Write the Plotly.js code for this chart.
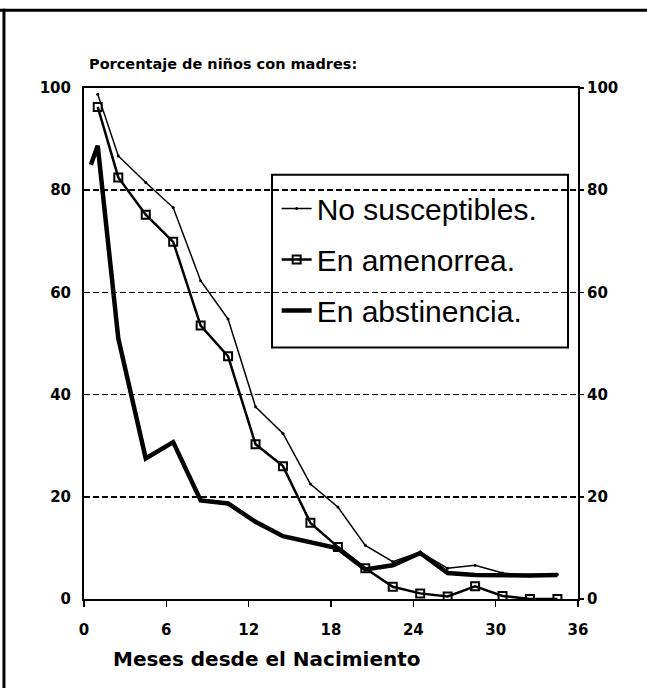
<!DOCTYPE html>
<html>
<head>
<meta charset="utf-8">
<script src="https://cdn.plot.ly/plotly-3.0.1.min.js"></script>
<style>html,body{margin:0;padding:0;background:#fff;}#chart{width:647px;height:688px;}</style>
</head>
<body>
<div id="chart"></div>
<script>
// Data
const seriesNames = ["No susceptibles.", "En amenorrea.", "En abstinencia."];

const monthsNoSusc = [1, 2.5, 4.5, 6.5, 8.5, 10.5, 12.5, 14.5, 16.5, 18.5, 20.5, 22.5, 24.5, 26.5, 28.5, 30.5, 32.5, 34.5];
const noSusceptibles = [98.8, 86.7, 81.5, 76.6, 62.3, 54.8, 37.6, 32.4, 22.5, 18.0, 10.5, 7.3, 9.2, 6.0, 6.6, 5.1, 4.5, 4.8];

const monthsAmen = [1, 2.5, 4.5, 6.5, 8.5, 10.5, 12.5, 14.5, 16.5, 18.5, 20.5, 22.5, 24.5, 26.5, 28.5, 30.5, 32.5, 34.5];
const amenorrea = [96.3, 82.5, 75.2, 69.9, 53.5, 47.5, 30.3, 26.0, 14.9, 10.2, 6.0, 2.4, 1.1, 0.5, 2.5, 0.6, 0.0, 0.0];

const monthsAbst = [0.5, 1, 2.5, 4.5, 6.5, 8.5, 10.5, 12.5, 14.5, 16.5, 18.5, 20.5, 22.5, 24.5, 26.5, 28.5, 30.5, 32.5, 34.5];
const abstinencia = [85.0, 88.7, 51.0, 27.5, 30.7, 19.3, 18.7, 15.1, 12.3, 11.0, 9.9, 5.8, 6.6, 9.0, 5.1, 4.7, 4.6, 4.6, 4.7];

const xTicks = [0, 6, 12, 18, 24, 30, 36];
const yTicks = [0, 20, 40, 60, 80, 100];
const titleText = "Porcentaje de niños con madres:";
const xTitleText = "Meses desde el Nacimiento";

const FONT = "Liberation Sans, Arial, Helvetica, sans-serif";
const BOLD = "DejaVu Sans, Liberation Sans, Arial, sans-serif";

const traces = [
  {x: monthsNoSusc, y: noSusceptibles, name: seriesNames[0], mode: "lines+markers",
   line: {color: "#000", width: 1.5}, marker: {symbol: "circle", size: 3, color: "#000"},
   legendgroup: "a"},
  {x: monthsAmen, y: amenorrea, name: seriesNames[1], mode: "lines+markers",
   line: {color: "#000", width: 2.5},
   marker: {symbol: "square-open", size: 8, color: "#000", line: {width: 2, color: "#000"}},
   legendgroup: "b"},
  {x: monthsAbst, y: abstinencia, name: seriesNames[2], mode: "lines",
   line: {color: "#000", width: 4.5}, legendgroup: "c"},
  {x: monthsAbst, y: abstinencia, yaxis: "y2", mode: "lines", showlegend: false,
   hoverinfo: "skip", line: {color: "rgba(0,0,0,0)", width: 0}}
];

const layout = {
  width: 647, height: 688,
  margin: {l: 84, r: 69, t: 88, b: 89},
  paper_bgcolor: "#fff", plot_bgcolor: "rgba(0,0,0,0)",
  font: {family: FONT, color: "#000"},
  showlegend: true,
  legend: {
    x: 0.39, y: 0.815, xanchor: "left", yanchor: "top",
    bgcolor: "rgba(0,0,0,0)", borderwidth: 0,
    font: {family: FONT, size: 30, color: "#000"},
    traceorder: "grouped", tracegroupgap: 9, itemwidth: 30
  },
  xaxis: {
    range: [0, 36], tickvals: xTicks, ticktext: xTicks.map(String),
    showgrid: false, zeroline: false,
    showline: true, linecolor: "#000", linewidth: 2, mirror: true,
    ticks: "outside", ticklen: 6, tickwidth: 1.5, tickcolor: "#000",
    tickfont: {family: BOLD, size: 15, weight: "bold", color: "#000"},
    ticklabelstandoff: 10
  },
  yaxis: {
    range: [0, 100], tickvals: yTicks, ticktext: yTicks.map(String),
    showgrid: true, gridcolor: "#000", griddash: "6px,3px", gridwidth: 1.5,
    zeroline: false, showline: true, linecolor: "#000", linewidth: 2, mirror: true,
    ticks: "", tickfont: {family: BOLD, size: 15, weight: "bold", color: "#000"},
    ticklabelstandoff: 8
  },
  yaxis2: {
    overlaying: "y", side: "right", range: [0, 100], tickvals: yTicks, ticktext: yTicks.map(String),
    showgrid: false, zeroline: false, showline: false,
    ticks: "outside", ticklen: 5, tickwidth: 1.5, tickcolor: "#000",
    tickfont: {family: BOLD, size: 15, weight: "bold", color: "#000"}
  },
  annotations: [
    {text: titleText, xref: "paper", yref: "paper", x: 0.006, y: 1.047, xanchor: "left", yanchor: "middle",
     showarrow: false, font: {family: BOLD, size: 14.5, weight: "bold", color: "#000"}},
    {text: xTitleText, xref: "paper", yref: "paper", x: 0.37, y: -0.117, xanchor: "center", yanchor: "middle",
     showarrow: false, font: {family: BOLD, size: 20, weight: "bold", color: "#000"}}
  ],
  shapes: [
    {type: "rect", xref: "paper", yref: "paper", x0: 0.3806, x1: 0.9798, y0: 0.492, y1: 0.830,
     line: {color: "#000", width: 2}, fillcolor: "rgba(0,0,0,0)"},
    {type: "line", xref: "paper", yref: "paper", x0: -0.175, x1: 1.15, y0: 1.152, y1: 1.152,
     line: {color: "#000", width: 3}},
    {type: "line", xref: "paper", yref: "paper", x0: -0.162, x1: -0.162, y0: 1.155, y1: -0.18,
     line: {color: "#000", width: 3}}
  ]
};

Plotly.newPlot("chart", traces, layout, {displayModeBar: false, staticPlot: true});
</script>
</body>
</html>
